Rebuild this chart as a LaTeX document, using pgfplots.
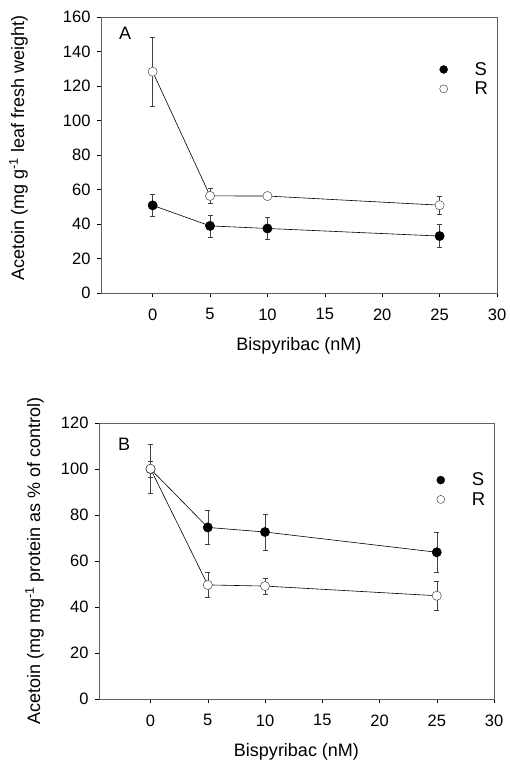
\documentclass[border=0pt]{standalone}
\usepackage{pgfplots}
\pgfplotsset{compat=1.18}
\usepackage{fontspec}
\setmainfont{Liberation Sans}
\setsansfont{Liberation Sans}

\pgfplotstableread{
x y e
0 50.8 6.5
5 38.9 6.4
10 37.4 6.4
25 33.0 6.6
}\AS
\pgfplotstableread{
x y e
0 128.3 20
5 56.3 4.2
10 56.2 1.0
25 50.9 5.1
}\AR
\pgfplotstableread{
x y e
0 100 3.5
5 74.6 7.5
10 72.6 7.8
25 63.8 8.6
}\BS
\pgfplotstableread{
x y e
0 100.1 10.8
5 49.6 5.5
10 49.1 3.5
25 44.9 6.3
}\BR

\begin{document}
\begin{tikzpicture}[x=1pt,y=1pt]
\path (0,0) rectangle (509,765);
\pgfplotsset{
  myax/.style={
    scale only axis, height=276pt,
    xmin=-4.5, xmax=30, xtick={0,5,...,30}, ymin=0,
    axis line style={gray!75!black, line width=0.6pt},
    tick style={black, line width=0.5pt},
    tick align=outside, major tick length=4pt,
    xtick pos=bottom, ytick pos=left,
    tick label style={font=\fontsize{16.5}{16.5}\selectfont},
    xticklabel style={yshift=-8pt},
    yticklabel style={xshift=-3pt},
    label style={font=\fontsize{18}{18}\selectfont},
    /pgf/number format/assume math mode=true,
    xlabel={Bispyribac (nM)},
    xlabel style={at={(axis description cs:0.5,-0.193)}, anchor=center},
    clip=false,
    legend style={draw=none, fill=none, font=\fontsize{18.5}{18.5}\selectfont,
      anchor=center, row sep=1pt,
      /tikz/every odd column/.append style={column sep=25pt}},
    legend cell align=left,
  },
  sS/.style={black, line width=0.6pt, mark=*, mark size=4.6pt,
    mark options={fill=black, draw=black},
    error bars/.cd, y dir=both, y explicit,
    error bar style={gray!50!black, line width=0.5pt},
    error mark options={rotate=90, mark size=2.5pt, gray!50!black, line width=0.5pt}},
  sR/.style={black, line width=0.6pt, mark=*, mark size=4.6pt,
    mark options={fill=white, draw=gray!60!black, line width=0.5pt},
    error bars/.cd, y dir=both, y explicit,
    error bar style={gray!50!black, line width=0.5pt},
    error mark options={rotate=90, mark size=2.5pt, gray!50!black, line width=0.5pt}},
  lS/.style={only marks, mark=*, mark size=4pt, mark options={fill=black, draw=black}},
  lR/.style={only marks, mark=*, mark size=4pt, mark options={fill=white, draw=gray!60!black, line width=0.5pt}},
}
\begin{axis}[myax, width=396pt, at={(101pt,472pt)}, anchor=south west,
  ymax=160, ytick={0,20,...,160},
  ylabel={Acetoin (mg g\textsuperscript{-1} leaf fresh weight)},
  ylabel style={at={(axis description cs:-0.208,0.525)}, anchor=center},
  legend style={at={(axis cs:27.2,124)}}]
\addplot[forget plot, sS] table[x=x,y=y,y error=e] {\AS};
\addplot[forget plot, sR] table[x=x,y=y,y error=e] {\AR};
\addlegendimage{lS}
\addlegendentry{S}
\addlegendimage{lR}
\addlegendentry{R}
\node[font=\fontsize{18}{18}\selectfont] at (axis cs:-2.4,150.7) {A};
\end{axis}
\begin{axis}[myax, width=395pt, at={(99pt,66pt)}, anchor=south west,
  ymax=120, ytick={0,20,...,120},
  ylabel={Acetoin (mg mg\textsuperscript{-1} protein as \% of control)},
  ylabel style={at={(axis description cs:-0.163,0.5)}, anchor=center},
  legend style={at={(axis cs:27.2,91)}}]
\addplot[forget plot, sS] table[x=x,y=y,y error=e] {\BS};
\addplot[forget plot, sR] table[x=x,y=y,y error=e] {\BR};
\addlegendimage{lS}
\addlegendentry{S}
\addlegendimage{lR}
\addlegendentry{R}
\node[font=\fontsize{18}{18}\selectfont] at (axis cs:-2.3,110.9) {B};
\end{axis}
\end{tikzpicture}
\end{document}
